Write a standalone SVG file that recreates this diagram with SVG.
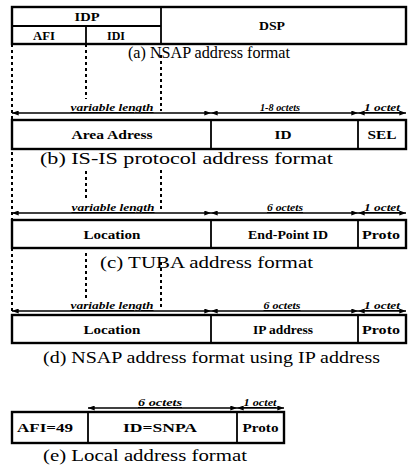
<svg xmlns="http://www.w3.org/2000/svg" width="408" height="467" viewBox="0 0 408 467">
<style>
.box{fill:#fff;stroke:#000;stroke-width:2.4}
.div{stroke:#000;stroke-width:1.8}
.dash{stroke:#000;stroke-width:2;stroke-dasharray:3 3;fill:none}
.dim{stroke:#000;stroke-width:1.7;marker-start:url(#ah);marker-end:url(#ah)}
.bt{font-family:"Liberation Serif",serif;font-weight:bold;font-size:13px;text-anchor:middle}
.cap{font-family:"Liberation Serif",serif;font-size:17px}
.lb{font-family:"Liberation Serif",serif;font-weight:bold;font-style:italic;font-size:10px;text-anchor:middle;text-decoration:underline}
</style>
<defs>
<marker id="ah" viewBox="0 0 8 6" refX="8" refY="3" markerWidth="7" markerHeight="5" markerUnits="userSpaceOnUse" orient="auto-start-reverse">
<path d="M0,0 L8,3 L0,6 z" fill="#000"/>
</marker>
</defs>
<rect width="408" height="467" fill="#fff"/>

<g id="guides">
<line class="dash" x1="12" y1="44" x2="12" y2="311"/>
<line class="dash" x1="86" y1="44" x2="86" y2="99"/>
<line class="dash" x1="86" y1="171" x2="86" y2="200"/>
<line class="dash" x1="86" y1="253" x2="86" y2="298"/>
<line class="dash" x1="161" y1="55" x2="161" y2="111"/>
<line class="dash" x1="161" y1="170" x2="161" y2="211"/>
<line class="dash" x1="161" y1="262" x2="161" y2="309"/>
</g>

<g id="connectors">
<line class="dim" x1="12" y1="113" x2="211" y2="113"/>
<line class="dim" x1="211" y1="113" x2="358" y2="113"/>
<line class="dim" x1="358" y1="113" x2="406" y2="113"/>
<line class="dim" x1="12" y1="213" x2="211" y2="213"/>
<line class="dim" x1="211" y1="213" x2="358" y2="213"/>
<line class="dim" x1="358" y1="213" x2="406" y2="213"/>
<line class="dim" x1="12" y1="311" x2="211" y2="311"/>
<line class="dim" x1="211" y1="311" x2="358" y2="311"/>
<line class="dim" x1="358" y1="311" x2="406" y2="311"/>
<line class="dim" x1="88" y1="408" x2="237" y2="408"/>
<line class="dim" x1="237" y1="408" x2="284" y2="408"/>
</g>

<g id="nsap">
<rect class="box" x="12" y="7" width="394" height="37"/>
<line class="div" x1="12" y1="26" x2="161" y2="26"/>
<line class="div" x1="161" y1="7" x2="161" y2="44"/>
<line class="div" x1="86" y1="26" x2="86" y2="44"/>
<text class="bt" x="87" y="21" font-size="12" textLength="25" lengthAdjust="spacingAndGlyphs">IDP</text>
<text class="bt" x="44" y="39.5" font-size="12" textLength="22" lengthAdjust="spacingAndGlyphs">AFI</text>
<text class="bt" x="116" y="39.5" font-size="12" textLength="18" lengthAdjust="spacingAndGlyphs">IDI</text>
<text class="bt" x="272" y="30" font-size="12" textLength="26" lengthAdjust="spacingAndGlyphs">DSP</text>
<text class="cap" x="128" y="58" textLength="162" lengthAdjust="spacingAndGlyphs">(a) NSAP address format</text>
</g>

<g id="isis">
<text class="lb" x="112" y="111" textLength="83" lengthAdjust="spacingAndGlyphs">variable length</text>
<text class="lb" x="280" y="111" textLength="40" lengthAdjust="spacingAndGlyphs">1-8 octets</text>
<text class="lb" x="382" y="111" textLength="36" lengthAdjust="spacingAndGlyphs">1 octet</text>
<rect class="box" x="12" y="120" width="394" height="29"/>
<line class="div" x1="211" y1="120" x2="211" y2="149"/>
<line class="div" x1="358" y1="120" x2="358" y2="149"/>
<text class="bt" x="112" y="139" textLength="81" lengthAdjust="spacingAndGlyphs">Area Adress</text>
<text class="bt" x="283" y="139" textLength="17" lengthAdjust="spacingAndGlyphs">ID</text>
<text class="bt" x="382" y="139" textLength="29" lengthAdjust="spacingAndGlyphs">SEL</text>
<text class="cap" x="40" y="164" textLength="293" lengthAdjust="spacingAndGlyphs">(b) IS-IS protocol address format</text>
</g>

<g id="tuba">
<text class="lb" x="113" y="211" textLength="83" lengthAdjust="spacingAndGlyphs">variable length</text>
<text class="lb" x="285" y="211" textLength="36" lengthAdjust="spacingAndGlyphs">6 octets</text>
<text class="lb" x="382" y="211" textLength="36" lengthAdjust="spacingAndGlyphs">1 octet</text>
<rect class="box" x="12" y="220" width="394" height="28"/>
<line class="div" x1="211" y1="220" x2="211" y2="248"/>
<line class="div" x1="358" y1="220" x2="358" y2="248"/>
<text class="bt" x="112" y="238.5" textLength="57" lengthAdjust="spacingAndGlyphs">Location</text>
<text class="bt" x="288" y="238.5" textLength="80" lengthAdjust="spacingAndGlyphs">End-Point ID</text>
<text class="bt" x="381" y="238.5" textLength="38" lengthAdjust="spacingAndGlyphs">Proto</text>
<text class="cap" x="100" y="268" textLength="213" lengthAdjust="spacingAndGlyphs">(c) TUBA address format</text>
</g>

<g id="nsapip">
<text class="lb" x="112" y="309" textLength="83" lengthAdjust="spacingAndGlyphs">variable length</text>
<text class="lb" x="282" y="309" textLength="37" lengthAdjust="spacingAndGlyphs">6 octets</text>
<text class="lb" x="382" y="309" textLength="36" lengthAdjust="spacingAndGlyphs">1 octet</text>
<rect class="box" x="12" y="315" width="394" height="28"/>
<line class="div" x1="211" y1="315" x2="211" y2="343"/>
<line class="div" x1="358" y1="315" x2="358" y2="343"/>
<text class="bt" x="112" y="333.5" textLength="57" lengthAdjust="spacingAndGlyphs">Location</text>
<text class="bt" x="283" y="333.5" textLength="60" lengthAdjust="spacingAndGlyphs">IP address</text>
<text class="bt" x="381" y="333.5" textLength="38" lengthAdjust="spacingAndGlyphs">Proto</text>
<text class="cap" x="43" y="363" textLength="337" lengthAdjust="spacingAndGlyphs">(d) NSAP address format using IP address</text>
</g>

<g id="local">
<text class="lb" x="160" y="406" textLength="44" lengthAdjust="spacingAndGlyphs">6 octets</text>
<text class="lb" x="260" y="406" textLength="33" lengthAdjust="spacingAndGlyphs">1 octet</text>
<rect class="box" x="12" y="412" width="272" height="31"/>
<line class="div" x1="88" y1="412" x2="88" y2="443"/>
<line class="div" x1="237" y1="412" x2="237" y2="443"/>
<text class="bt" x="45" y="432" textLength="56" lengthAdjust="spacingAndGlyphs">AFI=49</text>
<text class="bt" x="160" y="432" textLength="74" lengthAdjust="spacingAndGlyphs">ID=SNPA</text>
<text class="bt" x="260.5" y="432" textLength="36" lengthAdjust="spacingAndGlyphs">Proto</text>
<text class="cap" x="43" y="461" textLength="204" lengthAdjust="spacingAndGlyphs">(e) Local address format</text>
</g>
</svg>
